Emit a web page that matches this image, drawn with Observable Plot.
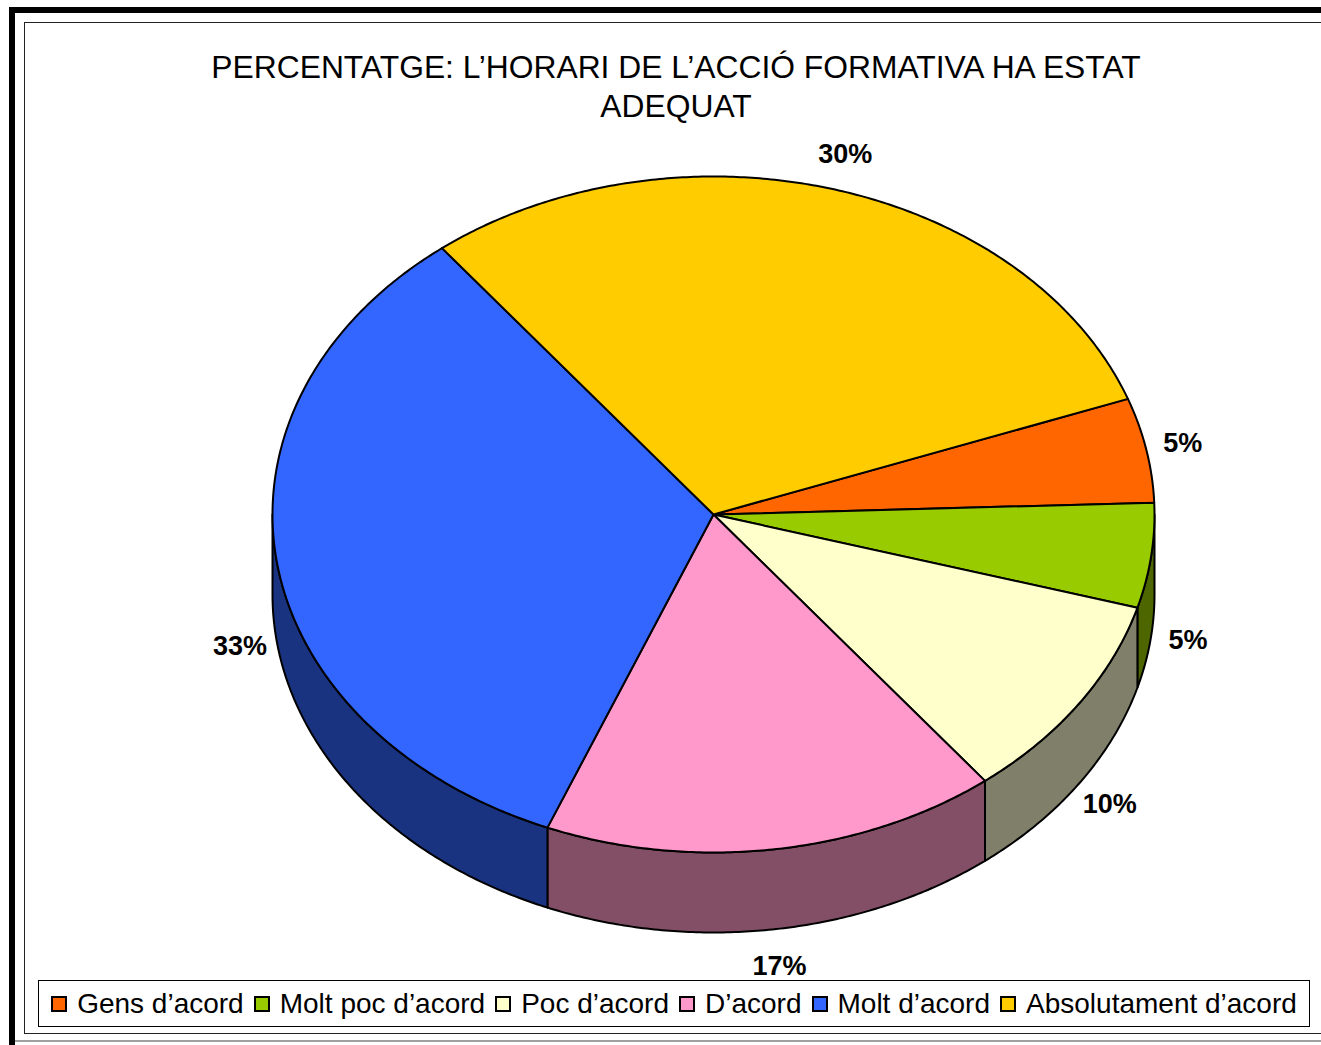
<!DOCTYPE html>
<html>
<head>
<meta charset="utf-8">
<script src="https://cdn.jsdelivr.net/npm/d3@7"></script>
<script src="https://cdn.jsdelivr.net/npm/@observablehq/plot@0.6"></script>
<style>
  html, body { margin:0; padding:0; background:#fff; }
  body { width:1321px; height:1045px; position:relative; overflow:hidden; font-family:"Liberation Sans", Arial, sans-serif; }
  .abs { position:absolute; box-sizing:border-box; }
  #chart { position:absolute; left:0; top:0; }
  #title { position:absolute; left:176px; width:1000px; top:48px; text-align:center; font-size:31.8px; line-height:39px; color:#000; }
  #legend { position:absolute; left:38px; top:980px; width:1272px; height:47px; box-sizing:border-box; border:1.5px solid #000; display:flex; align-items:center; justify-content:center; font-size:28px; color:#000; white-space:nowrap; }
  .item { display:flex; align-items:center; margin:0 5px; }
  .sw { width:16px; height:16px; box-sizing:border-box; border:2px solid #000; margin-right:10px; }
</style>
</head>
<body>
<div class="abs" style="left:9px; top:7px; width:1400px; height:1100px; border:6px solid #000;"></div>
<div class="abs" style="left:15px; top:1040px; width:1400px; height:2px; background:#a0a0a0;"></div>
<div class="abs" style="left:24px; top:22px; width:1400px; height:1012px; border:1.5px solid #222; border-right:none;"></div>
<div id="chart"></div>
<div id="title">PERCENTATGE: L’HORARI DE L’ACCIÓ FORMATIVA HA ESTAT<br>ADEQUAT</div>
<div id="legend"></div>
<script>
const categories = ["Gens d’acord", "Molt poc d’acord", "Poc d’acord", "D’acord", "Molt d’acord", "Absolutament d’acord"];
const values = [5, 5, 10, 16.7, 33.3, 30];
const labels = ["5%", "5%", "10%", "17%", "33%", "30%"];
const topColors = ["#FF6600", "#99CC00", "#FFFFCC", "#FF99CC", "#3366FF", "#FFCC00"];
const sideColors = ["#803300", "#4D6600", "#80806A", "#834F66", "#1A3380", "#806600"];

// layout parameters
const startDeg = 70;        // first slice starts here (clockwise from 12 o'clock)
const depth = 80 / 338;     // wall thickness in y-radius units
const rx = 441, ry = 338, cx = 713, cy = 514;

const total = d3.sum(values);
const rad = Math.PI / 180;
let acc = startDeg;
const slices = categories.map((c, i) => {
  const s = acc, e = acc + values[i] / total * 360;
  acc = e;
  return {i, c, s, e, m: (s + e) / 2};
});

const pt = (phi, dv = 0) => ({u: Math.sin(phi * rad), v: Math.cos(phi * rad) - dv});

// top faces
const tops = [];
for (const sl of slices) {
  tops.push({key: sl.i, u: 0, v: 0});
  const n = Math.max(2, Math.ceil((sl.e - sl.s) / 0.5));
  for (let k = 0; k <= n; k++) tops.push({key: sl.i, ...pt(sl.s + (sl.e - sl.s) * k / n)});
}

// side walls (front half only: 90..270 deg)
const walls = [];
for (const sl of slices) {
  for (const shift of [0, -360, 360]) {
    const a = Math.max(sl.s + shift, 90), b = Math.min(sl.e + shift, 270);
    if (b <= a) continue;
    const n = Math.max(2, Math.ceil((b - a) / 0.5));
    const up = [], dn = [];
    for (let k = 0; k <= n; k++) {
      const phi = a + (b - a) * k / n;
      up.push({key: sl.i, ...pt(phi)});
      dn.push({key: sl.i, ...pt(phi, depth)});
    }
    walls.push(...up, ...dn.reverse());
  }
}

// labels
const labelData = slices.map(sl => {
  const p = pt(sl.m);
  return {
    text: labels[sl.i],
    u: p.u * (1 + 37 / rx),
    v: p.v * (1 + 37 / ry) - (p.v < 0 ? depth : 0)
  };
});

const marks = [];
slices.forEach(sl => {
  const w = walls.filter(d => d.key === sl.i);
  if (w.length) marks.push(Plot.line(w, {x: "u", y: "v", fill: sideColors[sl.i], stroke: "#000", strokeWidth: 2, curve: "linear-closed", strokeLinejoin: "round"}));
});
slices.forEach(sl => {
  marks.push(Plot.line(tops.filter(d => d.key === sl.i), {x: "u", y: "v", fill: topColors[sl.i], stroke: "#000", strokeWidth: 2, curve: "linear-closed", strokeLinejoin: "round"}));
});
marks.push(Plot.text(labelData, {x: "u", y: "v", text: "text", fontSize: 27, fontWeight: "bold", fill: "#000", textAnchor: "middle", lineAnchor: "middle"}));

const chart = Plot.plot({
  width: 1321,
  height: 1045,
  margin: 0,
  style: {background: "transparent", fontFamily: "'Liberation Sans', Arial, sans-serif", overflow: "visible"},
  x: {domain: [-1, 1], range: [cx - rx, cx + rx], axis: null},
  y: {domain: [-1, 1], range: [cy + ry, cy - ry], axis: null},
  marks
});
document.getElementById("chart").appendChild(chart);

const legend = document.getElementById("legend");
categories.forEach((c, i) => {
  const it = document.createElement("div");
  it.className = "item";
  const sw = document.createElement("div");
  sw.className = "sw";
  sw.style.background = topColors[i];
  const t = document.createElement("span");
  t.textContent = c;
  it.appendChild(sw);
  it.appendChild(t);
  legend.appendChild(it);
});
</script>
</body>
</html>
